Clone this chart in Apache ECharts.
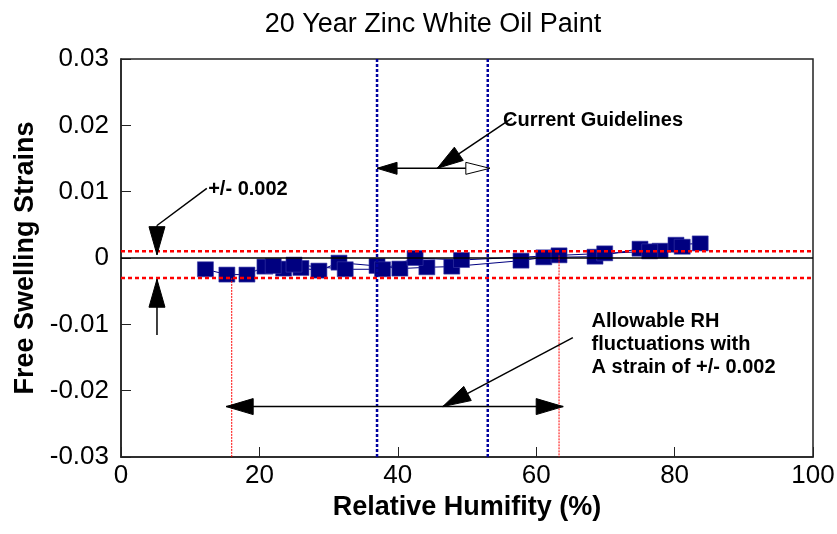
<!DOCTYPE html>
<html>
<head>
<meta charset="utf-8">
<script src="https://cdn.jsdelivr.net/npm/echarts@6/dist/echarts.min.js"></script>
<style>
  html, body { margin: 0; padding: 0; background: #fff; }
  #chart { width: 837px; height: 534px; }
</style>
</head>
<body>
<div id="chart"></div>
<script>
// Data (RH %, free swelling strain)
const upCycle = [
  [12.2, -0.0017], [15.3, -0.0025], [18.2, -0.0025], [20.8, -0.0013],
  [23.5, -0.0016], [26.0, -0.0015], [28.6, -0.0019], [31.5, -0.0007],
  [37.0, -0.0012], [40.3, -0.0016], [44.2, -0.0014], [47.8, -0.0013],
  [57.8, -0.0004], [61.1, 0.0001], [68.5, 0.0002], [75.0, 0.0014],
  [77.9, 0.0011], [80.2, 0.0020], [83.7, 0.0022],
];
const downCycle = [
  [81.1, 0.0017], [76.4, 0.0010], [69.9, 0.0007], [63.3, 0.0004],
  [49.2, -0.0003], [42.5, 0.0000], [37.8, -0.0017], [32.4, -0.0017],
  [25.0, -0.0010], [22.0, -0.0012],
];
const xTicks = [0, 20, 40, 60, 80, 100];
const yTicks = [-0.03, -0.02, -0.01, 0, 0.01, 0.02, 0.03];

// Reference lines
const guidelineRH = [37, 53];
const allowableRH = [16, 63.3];
const allowableTop = [-0.003, 0.0004];
const strainBand = [-0.003, 0.001];

const chart = echarts.init(document.getElementById("chart"));
const navy = "#000080";
const font = '"Liberation Sans", Arial, sans-serif';
const xMin = xTicks[0], xMax = xTicks[xTicks.length - 1];
const yMin = yTicks[0], yMax = yTicks[yTicks.length - 1];

// plain two-point line series for the reference lines (drawn over the squares)
function refLine(data, color, width, dash) {
  return {
    type: "line",
    data: data,
    symbol: "none",
    silent: true,
    z: 8,
    lineStyle: { color: color, width: width, type: dash },
  };
}

const series = [
  {
    type: "line",
    data: upCycle,
    symbol: "rect",
    symbolSize: [16, 15],
    itemStyle: { color: navy, borderColor: "#3a3aa8", borderWidth: 0.6 },
    lineStyle: { color: navy, width: 1 },
    z: 5,
  },
  {
    type: "line",
    data: downCycle,
    symbol: "rect",
    symbolSize: [16, 15],
    itemStyle: { color: navy, borderColor: "#3a3aa8", borderWidth: 0.6 },
    lineStyle: { color: navy, width: 1 },
    z: 5,
  },
  refLine([[xMin, 0], [xMax, 0]], "#000", 1.5, "solid"),
  ...strainBand.map((v) => refLine([[xMin, v], [xMax, v]], "#ff0000", 2.5, [4, 3])),
  ...guidelineRH.map((v) => refLine([[v, yMin], [v, yMax]], "#0000a0", 2.5, [3, 2])),
  ...allowableRH.map((v, i) => refLine([[v, allowableTop[i]], [v, yMin]], "#ff0000", 1, [2, 1])),
];

const option = {
  animation: false,
  backgroundColor: "#fff",
  title: {
    text: "20 Year Zinc White Oil Paint",
    left: 428,
    top: 6,
    textAlign: "center",
    textStyle: { fontFamily: font, fontSize: 27, fontWeight: "normal", color: "#000" },
  },
  grid: {
    left: 121, top: 59, right: 24, bottom: 77,
    show: true, borderColor: "#222", borderWidth: 1.5,
    outerBoundsMode: "none",
  },
  xAxis: {
    type: "value",
    min: xMin, max: xMax, interval: 20,
    name: "Relative Humifity (%)",
    nameLocation: "middle",
    nameGap: 36,
    nameTextStyle: { fontFamily: font, fontSize: 27, fontWeight: "bold", color: "#000" },
    axisLine: { onZero: false, lineStyle: { color: "#222", width: 1.5 } },
    axisTick: { inside: true, length: 10, lineStyle: { color: "#222" } },
    axisLabel: { fontFamily: font, fontSize: 26, color: "#000", margin: 6 },
    splitLine: { show: false },
  },
  yAxis: {
    type: "value",
    min: yMin, max: yMax, interval: 0.01,
    name: "Free Swelling Strains",
    nameLocation: "middle",
    nameGap: 80,
    nameTextStyle: { fontFamily: font, fontSize: 27, fontWeight: "bold", color: "#000" },
    axisLine: { onZero: false, lineStyle: { color: "#222", width: 1.5 } },
    axisTick: { inside: true, length: 10, lineStyle: { color: "#222" } },
    axisLabel: {
      fontFamily: font, fontSize: 26, color: "#000", margin: 12,
      formatter: (v) => String(+v.toFixed(2)),
    },
    splitLine: { show: false },
  },
  series: series,
};

chart.setOption(option);

// --- annotations (arrows + texts), anchored in data coordinates ---
function toPx(p) {
  return chart.convertToPixel({ gridIndex: 0 }, p);
}

function line(a, b) {
  const p = toPx(a), q = toPx(b);
  return {
    type: "line", silent: true, z: 20,
    shape: { x1: p[0], y1: p[1], x2: q[0], y2: q[1] },
    style: { stroke: "#000", lineWidth: 1.5 },
  };
}

function head(tip, from, len, hw, hollow) {
  const t = toPx(tip), f = toPx(from);
  const dx = f[0] - t[0], dy = f[1] - t[1];
  const d = Math.hypot(dx, dy);
  const ux = dx / d, uy = dy / d;
  const bx = t[0] + ux * len, by = t[1] + uy * len;
  return {
    type: "polygon", silent: true, z: 21,
    shape: { points: [t, [bx - uy * hw, by + ux * hw], [bx + uy * hw, by - ux * hw]] },
    style: { fill: hollow ? "#fff" : "#000", stroke: "#000", lineWidth: 1 },
  };
}

function label(text, pos, size) {
  const p = toPx(pos);
  return {
    type: "text", silent: true, z: 22,
    style: {
      text: text, x: p[0], y: p[1],
      font: "bold " + size + "px " + font,
      fill: "#000", textAlign: "left", textVerticalAlign: "top", verticalAlign: "top",
      lineHeight: 23,
    },
  };
}

const guideY = 0.01352;
const rangeY = -0.0224;
const graphics = [
  // Current guidelines double arrow
  line([guidelineRH[0], guideY], [53.3, guideY]),
  head([guidelineRH[0], guideY], [53.3, guideY], 20, 6, false),
  head([53.3, guideY], [guidelineRH[0], guideY], 24, 6, true),
  line([56.5, 0.0211], [45.7, guideY]),
  head([45.7, guideY], [56.5, 0.0211], 26, 8, false),
  label("Current Guidelines", [55.2, 0.0225], 20),

  // +/- 0.002 markers
  line([12.4, 0.0105], [5.2, 0.0049]),
  line([5.2, 0.0049], [5.2, 0.0005]),
  head([5.2, 0.0005], [5.2, 0.0049], 28, 8, false),
  label("+/- 0.002", [12.6, 0.0121], 20),
  line([5.2, -0.0116], [5.2, -0.0032]),
  head([5.2, -0.0032], [5.2, -0.0116], 28, 8, false),

  // Allowable RH range
  line([15.2, rangeY], [63.9, rangeY]),
  head([15.2, rangeY], [63.9, rangeY], 27, 8, false),
  head([63.9, rangeY], [15.2, rangeY], 27, 8, false),
  line([65.3, -0.0120], [46.5, rangeY]),
  head([46.5, rangeY], [65.3, -0.0120], 28, 8, false),
  label("Allowable RH\nfluctuations with\nA strain of +/- 0.002", [68.0, -0.0079], 20),
];

chart.setOption({ graphic: graphics });
</script>
</body>
</html>
